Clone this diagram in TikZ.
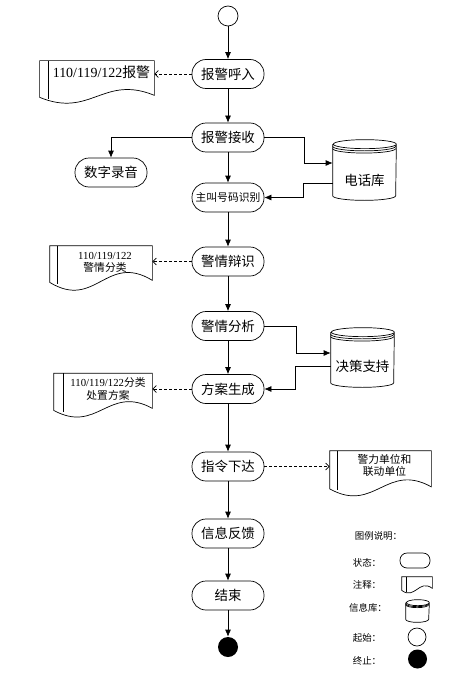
\documentclass[tikz,border=0pt]{standalone}
\usepackage{fontspec}
\setmainfont{Liberation Serif}
\newfontfamily\cjk{Noto Sans CJK SC}
\usetikzlibrary{arrows.meta}

\newcommand{\bigcn}{\cjk\fontsize{13.5}{16}\selectfont}
\newcommand{\smallcn}{\cjk\fontsize{10.8}{12.6}\selectfont}
\newcommand{\tinycn}{\cjk\fontsize{9.5}{11}\selectfont}

\newcommand{\docshape}[5]{%
  \draw ([xshift=-#2]#1.north west) -- ([xshift=-#2,yshift=-#3]#1.south west)
    .. controls +(#4,#5) and +(-#4,-#5) .. ([yshift=-#3+2bp]#1.south east)
    -- (#1.north east) -- cycle;
  \draw (#1.north west) -- ([yshift=-#3-1.5bp]#1.south west);
}
\newcommand{\dbshape}[4]{%
  \draw ([yshift=-#3]#1.north west) -- ([yshift=#3]#1.south west)
    arc[start angle=180,end angle=360,x radius=#2,y radius=#3]
    -- ([yshift=-#3]#1.north east)
    arc[start angle=0,end angle=360,x radius=#2,y radius=#3];
  \foreach \k in {1,2}
    \draw ([yshift=-#3-\k*#4]#1.north west)
      arc[start angle=180,end angle=360,x radius=#2,y radius=#3];
}

\tikzset{
  state/.style={draw,rounded corners=14bp,minimum width=72bp,minimum height=29bp,inner sep=1bp,font=\bigcn},
  note/.style={inner sep=0pt,align=center,font=\smallcn},
  dbase/.style={minimum width=63bp,minimum height=60bp,inner sep=0pt},
  startdot/.style={draw,circle,minimum size=20bp,inner sep=0pt},
  stopdot/.style={circle,fill,minimum size=20bp,inner sep=0pt},
  legend/.style={font=\tinycn},
  arr/.style={-{Latex[length=7bp,width=6bp]}},
  dasharr/.style={densely dashed,-{Straight Barb[length=3.5bp,width=7bp]}}
}

\begin{document}
\begin{tikzpicture}[x=1bp,y=-1bp,line width=0.7pt]
\useasboundingbox (0,0) rectangle (469,675);

\node[startdot] (start) at (228,16) {};
\node[state] (call) at (228,74) {报警呼入};
\node[state] (recv) at (228,137.5) {报警接收};
\node[state] (voice) at (111,172.5) {数字录音};
\node[state,font=\smallcn] (caller) at (228,197.5) {主叫号码识别};
\node[state] (judge) at (228,261.5) {警情辩识};
\node[state] (analyse) at (228,326) {警情分析};
\node[state] (plan) at (228,389) {方案生成};
\node[state] (order) at (228,466.5) {指令下达};
\node[state] (feedback) at (228,533.5) {信息反馈};
\node[state] (finish) at (228,595.5) {结束};
\node[stopdot] (stop) at (228,647) {};

\node[dbase,label={[font=\bigcn,yshift=-10bp]center:电话库}] (phonedb) at (364.5,170) {};
\node[dbase,minimum height=59bp,label={[font=\bigcn,yshift=-9bp]center:决策支持}] (decide) at (362.5,357.5) {};
\dbshape{phonedb}{31.5bp}{4.5bp}{2.2bp}
\dbshape{decide}{31.5bp}{4.5bp}{2.2bp}

\node[note,minimum width=105bp,minimum height=22bp,font=\cjk\fontsize{14}{16}\selectfont] (note1) at (101.5,72) {\textrm{110/119/122}报警};
\node[note,minimum width=94bp,minimum height=33bp] (note2) at (105,262.5) {\textrm{110/119/122}\\警情分类};
\node[note,minimum width=88bp,minimum height=31bp] (note3) at (108,389) {\textrm{110/119/122}分类\\处置方案};
\node[note,minimum width=93bp,minimum height=29bp] (note4) at (384.5,465.5) {警力单位和\\联动单位};
\docshape{note1}{9bp}{14bp}{51}{21}
\docshape{note2}{8bp}{3bp}{46}{28}
\docshape{note3}{10bp}{5.5bp}{44}{24}
\docshape{note4}{8bp}{8.5bp}{45}{25}
\coordinate (note4in) at ([xshift=-8bp]note4.west);

\draw[arr] (start) -- (call);
\draw[arr] (call) -- (recv);
\draw[arr] (recv) -- (caller);
\draw[arr] (caller) -- (judge);
\draw[arr] (judge) -- (analyse);
\draw[arr] (analyse) -- (plan);
\draw[arr] (plan) -- (order);
\draw[arr] (order) -- (feedback);
\draw[arr] (feedback) -- (finish);
\draw[arr] (finish) -- (stop);
\draw[arr] (recv.west) -| (voice);
\draw[arr] (recv.east) -- ++(40,0) |- ([yshift=7bp]phonedb.west);
\draw[arr] ([yshift=-13bp]phonedb.west) -- ++(-29,0) |- (caller.east);
\draw[arr] (analyse.east) -- ++(32,0) |- ([yshift=4.5bp]decide.west);
\draw[arr] ([yshift=-8.5bp]decide.west) -- ++(-35,0) |- (plan.east);
\draw[dasharr] (call.west) -- (call.west -| note1.east);
\draw[dasharr] (judge.west) -- (judge.west -| note2.east);
\draw[dasharr] (plan.west) -- (plan.west -| note3.east);
\draw[dasharr] (order.east) -- (order.east -| note4in);

\node[legend] (lgtitle) at (378.5,535.5) {图例说明：};
\node[legend] (lgstatetxt) at (367,563) {状态：};
\node[legend] (lgnotetxt) at (367,585) {注释：};
\node[legend] (lgbasetxt) at (368,608) {信息库：};
\node[legend] (lgstarttxt) at (367,638) {起始：};
\node[legend] (lgstoptxt) at (367,660.5) {终止：};
\node[state,minimum width=30bp,minimum height=15bp,rounded corners=7bp] (lgstate) at (415,560.5) {};
\node[note,minimum width=25bp,minimum height=9bp] (lgnote) at (419.5,581.5) {};
\docshape{lgnote}{5bp}{4bp}{13.5}{10}
\node[dbase,minimum width=23bp,minimum height=22bp] (lgbase) at (417.5,611) {};
\dbshape{lgbase}{11.5bp}{3bp}{1bp}
\node[startdot,minimum size=18bp] (lgstart) at (417,637) {};
\node[stopdot,minimum size=19bp] (lgstop) at (417.5,659) {};
\end{tikzpicture}
\end{document}
